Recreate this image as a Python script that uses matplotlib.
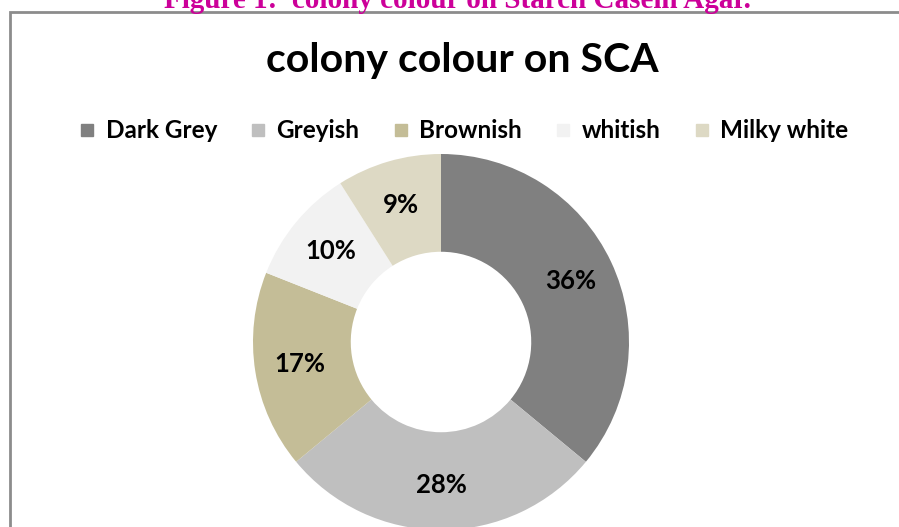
import matplotlib.pyplot as plt
from matplotlib.patches import Rectangle
from matplotlib.lines import Line2D

# data
categories = ['Dark Grey', 'Greyish', 'Brownish', 'whitish', 'Milky white']
values = [36, 28, 17, 10, 9]
colors = ['#808080', '#BFBFBF', '#C4BD97', '#F2F2F2', '#DDD9C4']

W, H = 899, 527
fig = plt.figure(figsize=(W / 100, H / 100), dpi=100)
ax = fig.add_axes([0, 0, 1, 1])
ax.set_xlim(0, W)
ax.set_ylim(0, H)
ax.set_aspect('equal')
ax.axis('off')

# chart border (runs off the right and bottom edge)
ax.add_patch(Rectangle((10, -20), W + 40, H - 12 + 20, fill=False,
                       edgecolor='#8c8c8c', linewidth=2))

# caption above chart, cut off at the top
fig.text(457 / W, 1 - 8 / H, 'Figure 1:  colony colour on Starch Casein Agar.',
         ha='center', va='baseline', color='#CC0099', fontsize=21,
         fontweight='bold', family='Liberation Serif')

# title
ax.text(462, H - 72, 'colony colour on SCA', ha='center', va='baseline',
        fontsize=29.5, fontweight='bold', family='Lato')

# donut
r = 188
wedges, texts, autotexts = ax.pie(
    values, colors=colors, startangle=90, counterclock=False,
    radius=r, center=(441, H - 342), autopct='%d%%', pctdistance=0.76,
    wedgeprops=dict(width=r * 0.52, linewidth=0),
    textprops=dict(fontsize=18.5, fontweight='bold', family='Lato'))
ax.set_xlim(0, W)
ax.set_ylim(0, H)

# legend
handles = [Line2D([], [], marker='s', linestyle='', markersize=9,
                  markerfacecolor=c, markeredgecolor=c) for c in colors]
fig.legend(handles, categories, loc='center', bbox_to_anchor=(464 / W, 1 - 131 / H),
           ncol=5, frameon=False, handlelength=0.6, handletextpad=0.45,
           columnspacing=1.4, prop=dict(family='Lato', weight='bold', size=17.5))

plt.savefig('out.png', dpi=100)
